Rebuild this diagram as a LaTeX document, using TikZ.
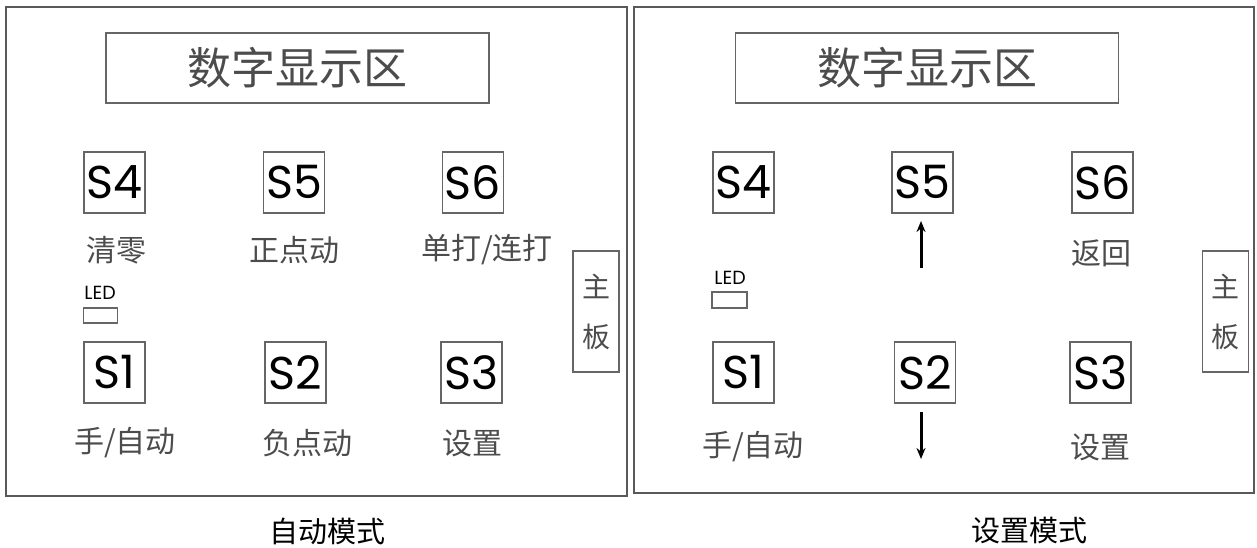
\documentclass[tikz,border=0pt]{standalone}
\usepackage{fontspec}
\setmainfont{Noto Sans CJK SC}
\newfontfamily\cjk{Noto Sans CJK SC}
\newfontfamily\skey{Poppins}
\usetikzlibrary{arrows.meta}
\tikzset{
  panel/.style={draw=black!65, line width=1.3pt},
  sbox/.style={draw=black!60, line width=1.3pt, inner sep=0pt},
  disp/.style={sbox, minimum width=383pt, minimum height=70pt, font=\cjk\fontsize{44}{44}\selectfont, text=black!70},
  keybox/.style={sbox, minimum width=61pt, minimum height=61pt, font=\skey\fontsize{46}{46}\selectfont},
  lbl/.style={inner sep=0pt, font=\cjk\fontsize{30}{30}\selectfont, text=black!70},
  ledtext/.style={inner sep=0pt, font=\skey\fontsize{19}{19}\selectfont},
  ledbox/.style={sbox, minimum width=34pt, minimum height=15pt},
  board/.style={sbox, minimum width=46pt, minimum height=121pt, align=center, font=\cjk\fontsize{28}{50}\selectfont, text=black!70},
  caption/.style={inner sep=0pt, font=\cjk\fontsize{29}{29}\selectfont},
  updown/.style={line width=3pt, -{Stealth[length=11pt,width=9pt]}}
}
\begin{document}
\begin{tikzpicture}[x=1pt,y=-1pt]
\useasboundingbox (0,0) rectangle (1257,548);
% panels
\draw[panel] (6,7) rectangle (627,496);
\draw[panel] (634,7) rectangle (1254,493);
% ---------- left panel: automatic mode ----------
\node[disp] (ldisp) at (297.5,68) {数字显示区};
\node[keybox] (lS4) at (114.5,182.5) {S4};
\node[keybox] (lS5) at (294,182.5) {S5};
\node[keybox] (lS6) at (473,182.5) {S6};
\node[keybox] (lS1) at (114.5,372.5) {S1};
\node[keybox] (lS2) at (295.5,372.5) {S2};
\node[keybox] (lS3) at (471.5,372.5) {S3};
\node[lbl] (l4t) at (116.5,250) {清零};
\node[lbl] (l5t) at (294.5,250) {正点动};
\node[lbl] (l6t) at (487,250) {单打/连打};
\node[lbl] (l1t) at (125,443) {手/自动};
\node[lbl] (l2t) at (307,443) {负点动};
\node[lbl] (l3t) at (472,443) {设置};
\node[ledtext] (lledt) at (100,293) {LED};
\node[ledbox] (lled) at (100.5,315.5) {};
\node[board] (lboard) at (596,311.5) {主\\板};
\node[caption] (lcap) at (327,531) {自动模式};
% ---------- right panel: setting mode ----------
\node[disp] (rdisp) at (927,68) {数字显示区};
\node[keybox] (rS4) at (743.5,182.5) {S4};
\node[keybox] (rS5) at (922.5,182.5) {S5};
\node[keybox] (rS6) at (1102.5,182.5) {S6};
\node[keybox] (rS1) at (743.5,372.5) {S1};
\node[keybox] (rS2) at (925,372.5) {S2};
\node[keybox] (rS3) at (1100.5,372.5) {S3};
\node[lbl] (r6t) at (1101,253) {返回};
\node[lbl] (r1t) at (753,447) {手/自动};
\node[lbl] (r3t) at (1100,447) {设置};
\node[ledtext] (rledt) at (730,278) {LED};
\node[ledbox, minimum width=35pt, minimum height=16pt] (rled) at (729.5,300) {};
\node[board] (rboard) at (1225.5,311.5) {主\\板};
\node[caption] (rcap) at (1029,531) {设置模式};
% arrows
\coordinate (upA) at (921,268);
\coordinate (upB) at (921,221);
\coordinate (dnA) at (921,412);
\coordinate (dnB) at (921,459);
\draw[updown] (upA) -- (upB);
\draw[updown] (dnA) -- (dnB);
\end{tikzpicture}
\end{document}
